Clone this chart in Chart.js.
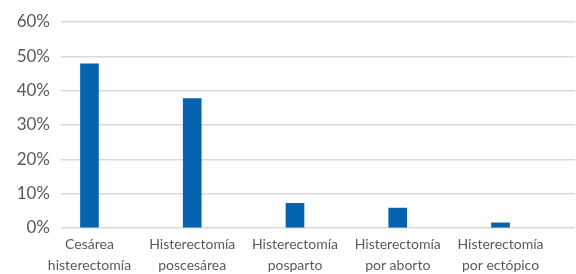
<!DOCTYPE html>
<html><head><meta charset="utf-8">
<script src="https://cdn.jsdelivr.net/npm/chart.js@4"></script>
<style>html,body{margin:0;padding:0;background:#fff}#wrap{width:576px;height:274px}</style>
</head><body><div id="wrap"><canvas id="c" width="576" height="274"></canvas></div>
<script>
const categories = [["Cesárea","histerectomía"],["Histerectomía","poscesárea"],["Histerectomía","posparto"],["Histerectomía","por aborto"],["Histerectomía","por ectópico"]];
const values = [47.8, 37.7, 7.2, 5.8, 1.5];
const yTicks = [0,10,20,30,40,50,60];
const FONT = "Lato, sans-serif";
new Chart(document.getElementById('c'), {
  type: 'bar',
  data: { datasets: [{ data: values.map((v,i)=>({x:i,y:v})), backgroundColor:'#0563b0', barThickness:18 }] },
  options: {
    responsive:false, animation:false,
    layout:{padding:{top:22,right:1,left:0,bottom:0}},
    plugins:{legend:{display:false},tooltip:{enabled:false}},
    scales:{
      x:{ type:'linear', min:-0.277, max:4.725, offset:false,
        grid:{display:false, drawTicks:false}, border:{display:false},
        afterBuildTicks: s => { s.ticks = categories.map((c,i)=>({value:i})); },
        afterFit: s => { s.height = 46; },
        ticks:{ autoSkip:false, maxRotation:0, padding:6, color:'#595959', font:{family:FONT,size:14,lineHeight:1.5}, callback:(v)=>categories[v] }
      },
      y:{ min:0, max:60,
        afterBuildTicks: s => { s.ticks = yTicks.map(v=>({value:v})); },
        afterFit: s => { s.width = 61; },
        grid:{color:'#d9d9d9', lineWidth:1.5, drawTicks:false}, border:{display:false},
        ticks:{ padding:11, color:'#595959', font:{family:FONT,size:17}, callback:v=>v+'%' }
      }
    }
  }
});
</script></body></html>
